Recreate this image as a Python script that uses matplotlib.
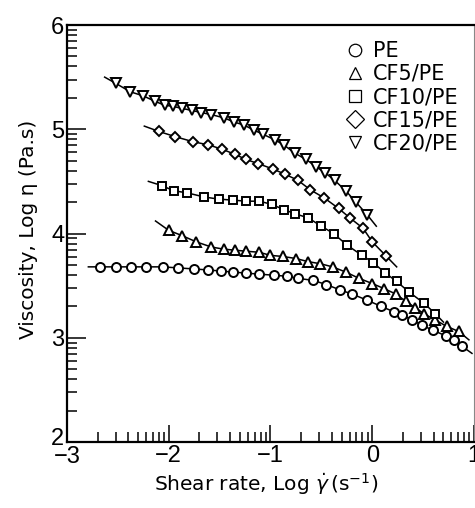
import numpy as np
import matplotlib
matplotlib.use("Agg")
import matplotlib.pyplot as plt
import matplotlib.transforms as mtransforms
from matplotlib.lines import Line2D
from matplotlib.ticker import FixedLocator

# log shear rate / log viscosity
pe_x = [-2.68, -2.52, -2.37, -2.22, -2.06, -1.91, -1.75, -1.61, -1.49, -1.37, -1.24, -1.11, -0.97, -0.84,
        -0.73, -0.58, -0.45, -0.32, -0.20, -0.05, 0.09, 0.21, 0.29, 0.39, 0.49, 0.60, 0.72, 0.80, 0.88]
pe_y = [3.68, 3.68, 3.68, 3.68, 3.68, 3.67, 3.66, 3.65, 3.64, 3.63, 3.62, 3.61, 3.60, 3.59,
        3.57, 3.55, 3.51, 3.46, 3.42, 3.36, 3.30, 3.25, 3.22, 3.17, 3.12, 3.07, 3.02, 2.98, 2.92]
pe_ends = [(-2.79, 3.68), (0.98, 2.85)]

cf5_x = [-2.00, -1.87, -1.73, -1.58, -1.46, -1.35, -1.24, -1.11, -1.00, -0.88, -0.75, -0.63, -0.51,
         -0.39, -0.26, -0.13, 0.00, 0.12, 0.23, 0.33, 0.42, 0.51, 0.62, 0.73, 0.85]
cf5_y = [4.03, 3.98, 3.92, 3.87, 3.85, 3.84, 3.83, 3.82, 3.79, 3.78, 3.76, 3.73, 3.71,
         3.68, 3.63, 3.57, 3.52, 3.47, 3.42, 3.35, 3.29, 3.23, 3.17, 3.11, 3.06]
cf5_ends = [(-2.13, 4.12), (0.95, 2.98)]

cf10_x = [-2.07, -1.95, -1.82, -1.65, -1.51, -1.37, -1.24, -1.11, -0.99, -0.87, -0.76, -0.63, -0.50,
          -0.38, -0.25, -0.10, 0.01, 0.13, 0.24, 0.36, 0.51, 0.62]
cf10_y = [4.46, 4.41, 4.39, 4.35, 4.33, 4.32, 4.31, 4.31, 4.28, 4.23, 4.19, 4.15, 4.07,
          4.00, 3.89, 3.79, 3.72, 3.62, 3.54, 3.44, 3.33, 3.23]
cf10_ends = [(-2.20, 4.50), (0.70, 3.15)]

cf15_x = [-2.10, -1.94, -1.76, -1.61, -1.48, -1.35, -1.24, -1.12, -0.98, -0.86, -0.73, -0.61, -0.47,
          -0.33, -0.22, -0.09, 0.00, 0.14]
cf15_y = [4.98, 4.93, 4.88, 4.85, 4.81, 4.76, 4.71, 4.67, 4.62, 4.57, 4.51, 4.42, 4.34,
          4.24, 4.15, 4.05, 3.92, 3.78]
cf15_ends = [(-2.24, 5.03), (0.24, 3.68)]

cf20_x = [-2.52, -2.38, -2.25, -2.14, -2.04, -1.96, -1.87, -1.77, -1.68, -1.58, -1.46, -1.36, -1.26,
          -1.16, -1.07, -0.96, -0.87, -0.76, -0.65, -0.55, -0.46, -0.37, -0.26, -0.16, -0.05]
cf20_y = [5.44, 5.36, 5.32, 5.27, 5.23, 5.22, 5.20, 5.18, 5.16, 5.14, 5.11, 5.07, 5.04,
          4.99, 4.95, 4.90, 4.85, 4.77, 4.71, 4.64, 4.58, 4.51, 4.41, 4.30, 4.18]
cf20_ends = [(-2.63, 5.50), (0.04, 4.07)]

labels = ["PE", "CF5/PE", "CF10/PE", "CF15/PE", "CF20/PE"]
markers = ["o", "^", "s", "D", "v"]
sizes = [6.5, 7, 6, 5.5, 7]

series = [(pe_x, pe_y, pe_ends), (cf5_x, cf5_y, cf5_ends), (cf10_x, cf10_y, cf10_ends),
          (cf15_x, cf15_y, cf15_ends), (cf20_x, cf20_y, cf20_ends)]

fig = plt.figure(figsize=(4.75, 5.08), dpi=100)
ax = fig.add_axes([67 / 475, 66 / 508, 407 / 475, 417 / 508])

for (xs, ys, ends), m, ms in zip(series, markers, sizes):
    lx = [ends[0][0]] + xs + [ends[1][0]]
    ly = [ends[0][1]] + ys + [ends[1][1]]
    ax.plot(lx, ly, color="black", lw=1.1, zorder=2)
    ax.plot(xs, ys, ls="none", marker=m, ms=ms, mfc="white", mec="black", mew=1.4, zorder=3)

ax.set_xlim(-3, 1)
ax.set_ylim(2, 6)

# log-style minor ticks inside each decade
xmaj = np.arange(-3, 2)
ymaj = np.arange(2, 7)
xmin = [d + np.log10(k) for d in range(-3, 1) for k in range(2, 10)]
ymin = [d + np.log10(k) for d in range(2, 6) for k in range(2, 10)]
ax.xaxis.set_major_locator(FixedLocator(xmaj))
ax.yaxis.set_major_locator(FixedLocator(ymaj))
ax.xaxis.set_minor_locator(FixedLocator(xmin))
ax.yaxis.set_minor_locator(FixedLocator(ymin))
ax.tick_params(which="both", direction="in", top=False, right=False, width=1.1, color="black")
ax.tick_params(axis="y", which="major", length=14)
ax.tick_params(axis="x", which="major", length=12)
ax.tick_params(which="minor", length=7)
ax.tick_params(axis="both", which="major", labelsize=17, pad=2)
for t in ax.get_xticklabels() + ax.get_yticklabels():
    t.set_fontfamily("Liberation Sans")

# the "2" sits just above the "-3" in the corner
lab2 = ax.get_yticklabels()[0]
lab2.set_transform(lab2.get_transform() + mtransforms.ScaledTranslation(0, 4 / 72, fig.dpi_scale_trans))
lab3 = ax.get_xticklabels()[0]
lab3.set_transform(lab3.get_transform() + mtransforms.ScaledTranslation(0, -1 / 72, fig.dpi_scale_trans))

for s in ["left", "bottom", "top"]:
    ax.spines[s].set_linewidth(1.6)
ax.spines["right"].set_linewidth(0.8)
ax.spines["right"].set_color("#888888")

ax.set_xlabel(r"Shear rate, Log $\dot{\gamma}\,(\mathrm{s}^{-1})$", fontsize=14.5)
ax.set_ylabel("Viscosity, Log η (Pa.s)", fontsize=14.5)
ax.xaxis.set_label_coords(0.49, -0.07)
ax.yaxis.set_label_coords(-0.072, 0.51)

handles = [Line2D([], [], ls="none", marker=m, ms=9, mfc="white", mec="black", mew=0.9)
           for m in markers]
ax.legend(handles, labels, loc="upper left", bbox_to_anchor=(0.683, 0.962), frameon=False,
          fontsize=15, handlelength=1.0, handletextpad=0.35, labelspacing=0.15,
          borderaxespad=0, borderpad=0)

fig.savefig("out.png", dpi=100)
